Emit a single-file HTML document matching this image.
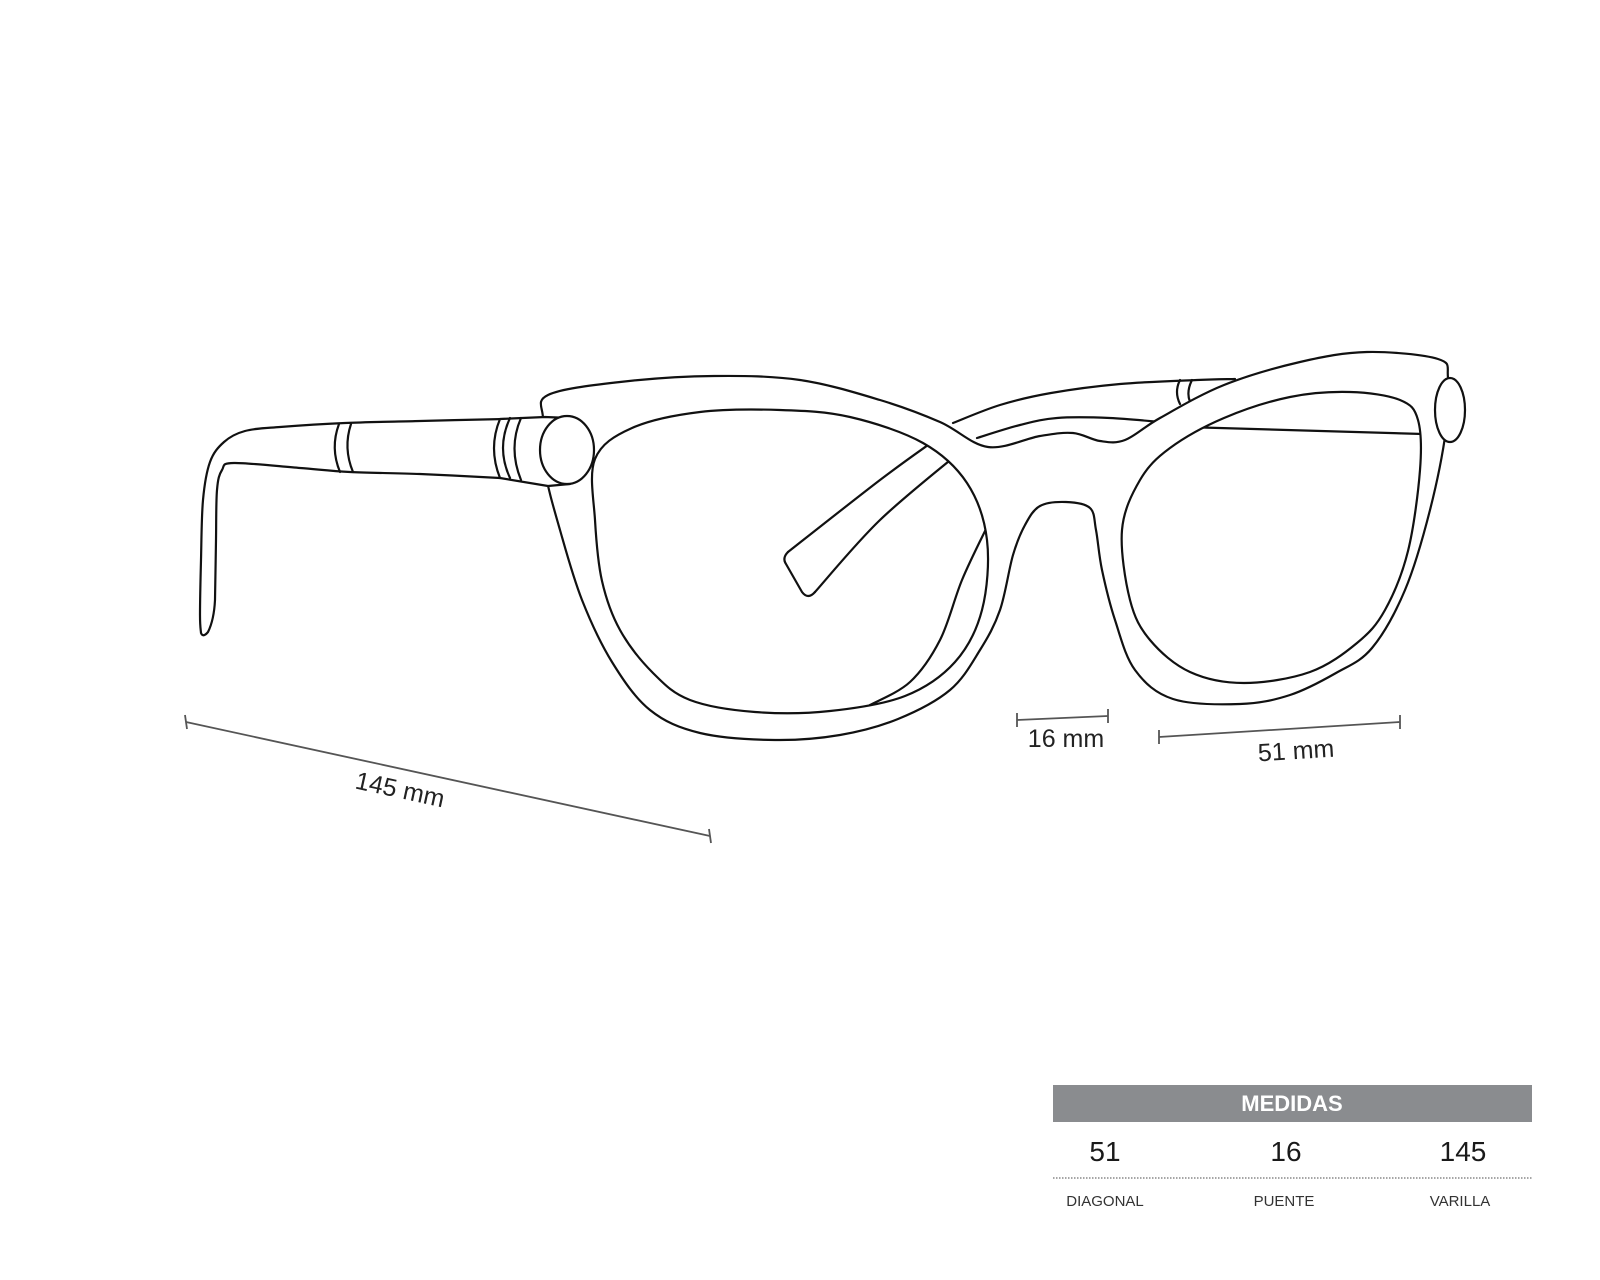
<!DOCTYPE html>
<html><head><meta charset="utf-8"><style>
body{margin:0;background:#fff;}
svg{display:block}
text{font-family:"Liberation Sans",Arial,sans-serif}
</style></head><body>
<svg id="s" width="1600" height="1280" viewBox="0 0 1600 1280" xmlns="http://www.w3.org/2000/svg">
<g id="g" fill="none" stroke="#111" stroke-width="2.2" stroke-linejoin="round" stroke-linecap="round"></g>
<g stroke="#555" stroke-width="1.8" fill="none">
<line x1="186" y1="722" x2="710" y2="836"/><line x1="185" y1="715" x2="187" y2="729"/><line x1="709" y1="829" x2="711" y2="843"/>
<line x1="1017" y1="720" x2="1108" y2="716"/><line x1="1017" y1="713" x2="1017" y2="727"/><line x1="1108" y1="709" x2="1108" y2="723"/>
<line x1="1159" y1="737" x2="1400" y2="722"/><line x1="1159" y1="730" x2="1159" y2="744"/><line x1="1400" y1="715" x2="1400" y2="729"/>
</g>
<g fill="#222" font-size="25">
<text x="400" y="798" text-anchor="middle" transform="rotate(12.3 400 790)">145 mm</text>
<text x="1066" y="747" text-anchor="middle">16 mm</text>
<text x="1296" y="759" text-anchor="middle" transform="rotate(-3.5 1296 750)">51 mm</text>
</g>
<rect x="1053" y="1085" width="479" height="37" fill="#8a8c8f"/>
<text x="1292" y="1111" text-anchor="middle" fill="#fff" font-size="22" font-weight="bold">MEDIDAS</text>
<g fill="#1a1a1a" font-size="28" text-anchor="middle">
<text x="1105" y="1161">51</text><text x="1286" y="1161">16</text><text x="1463" y="1161">145</text>
</g>
<line x1="1053" y1="1178" x2="1532" y2="1178" stroke="#888" stroke-width="1.5" stroke-dasharray="1.5 1.5"/>
<g fill="#333" font-size="15" text-anchor="middle">
<text x="1105" y="1206">DIAGONAL</text><text x="1284" y="1206">PUENTE</text><text x="1460" y="1206">VARILLA</text>
</g>
</svg>
<script>
function cr(p,closed){
 var n=p.length,d="M"+p[0][0]+","+p[0][1];
 var m=closed?n:n-1;
 for(var i=0;i<m;i++){
  var p0=p[(i-1+n)%n],p1=p[i],p2=p[(i+1)%n],p3=p[(i+2)%n];
  if(!closed){if(i==0)p0=p1;if(i+2>=n)p3=p2;}
  var c1=[p1[0]+(p2[0]-p0[0])/6,p1[1]+(p2[1]-p0[1])/6],c2=[p2[0]-(p3[0]-p1[0])/6,p2[1]-(p3[1]-p1[1])/6];
  d+=" C"+c1[0].toFixed(1)+","+c1[1].toFixed(1)+" "+c2[0].toFixed(1)+","+c2[1].toFixed(1)+" "+p2[0]+","+p2[1];
 }
 return d+(closed?"Z":"");
}
var g=document.getElementById("g"),NS="http://www.w3.org/2000/svg";
function path(d,fill,rule){var e=document.createElementNS(NS,"path");e.setAttribute("d",d);if(fill)e.setAttribute("fill",fill);if(rule)e.setAttribute("fill-rule",rule);g.appendChild(e);}
function ell(cx,cy,rx,ry){var e=document.createElementNS(NS,"ellipse");e.setAttribute("cx",cx);e.setAttribute("cy",cy);e.setAttribute("rx",rx);e.setAttribute("ry",ry);e.setAttribute("fill","#fff");g.appendChild(e);}
// far temple arm
path(cr([[935,440],[880,480],[788,552]],false));
path("M788,552 Q782,558 786,564 L802,592 Q808,600 815,592");
path(cr([[815,592],[880,520],[960,452]],false));
// far temple over bridge
path(cr([[953,423],[1000,405],[1051,393],[1120,384],[1197,380],[1235,379]],false));
path(cr([[977,438],[1020,425],[1057,418],[1110,418],[1160,422]],false));
path("M1180,380 Q1174,392 1180,404 M1192,380 Q1186,392 1190,402");
// far temple line in right lens
path("M1185,427 L1423,434");
// extra curve in left lens
path(cr([[987,527],[962,580],[940,640],[910,682],[870,705]],false));
// frame
var outer=cr([[548,395],[620,382],[714,376],[800,380],[880,400],[940,422],[988,447],[1040,436],[1073,433],[1100,441],[1125,440],[1160,418],[1224,385],[1300,362],[1367,352],[1438,359],[1448,378],[1446,430],[1430,510],[1405,590],[1372,648],[1336,673],[1290,695],[1240,704],[1173,699],[1135,670],[1115,620],[1102,570],[1096,530],[1090,508],[1066,502],[1040,506],[1025,525],[1013,555],[1000,610],[980,650],[950,690],[898,719],[840,735],[775,740],[700,733],[650,710],[612,662],[582,600],[560,530],[545,470],[543,420]],true);
var lin=cr([[595,459],[632,428],[700,412],[780,410],[850,417],[923,443],[967,483],[987,540],[982,610],[955,662],[905,696],[830,711],[755,712],[690,700],[653,673],[620,630],[602,581],[595,520]],true);
var rin=cr([[1122,530],[1140,480],[1170,448],[1224,418],[1290,397],[1350,392],[1400,400],[1418,420],[1420,470],[1408,551],[1385,610],[1357,643],[1310,672],[1244,683],[1190,672],[1150,640],[1130,600]],true);
path(outer+lin+rin,"#fff","evenodd");
// near temple
path(cr([[505,419],[420,421],[345,423],[280,427],[245,431],[224,442],[210,462],[203,500],[201,560],[200,615],[201,633]],false)+" Q203,638 208,632 Q214,620 215,600"+cr([[215,600],[216,540],[217,490],[222,470],[234,463],[300,468],[350,472],[420,474],[500,478]],false).replace("M","L"));
path("M339,424 Q330,448 340,472 M351,424 Q343,448 353,472");
// hinge
path("M500,419 L545,417 L570,418 L570,484 L548,486 L500,478 Q488,448 500,419Z","#fff");
path("M510,418 Q496,448 510,478 M521,418 Q508,448 521,480");
ell(567,450,27,34);
// right hinge
ell(1450,410,15,32);
</script>
</body></html>
